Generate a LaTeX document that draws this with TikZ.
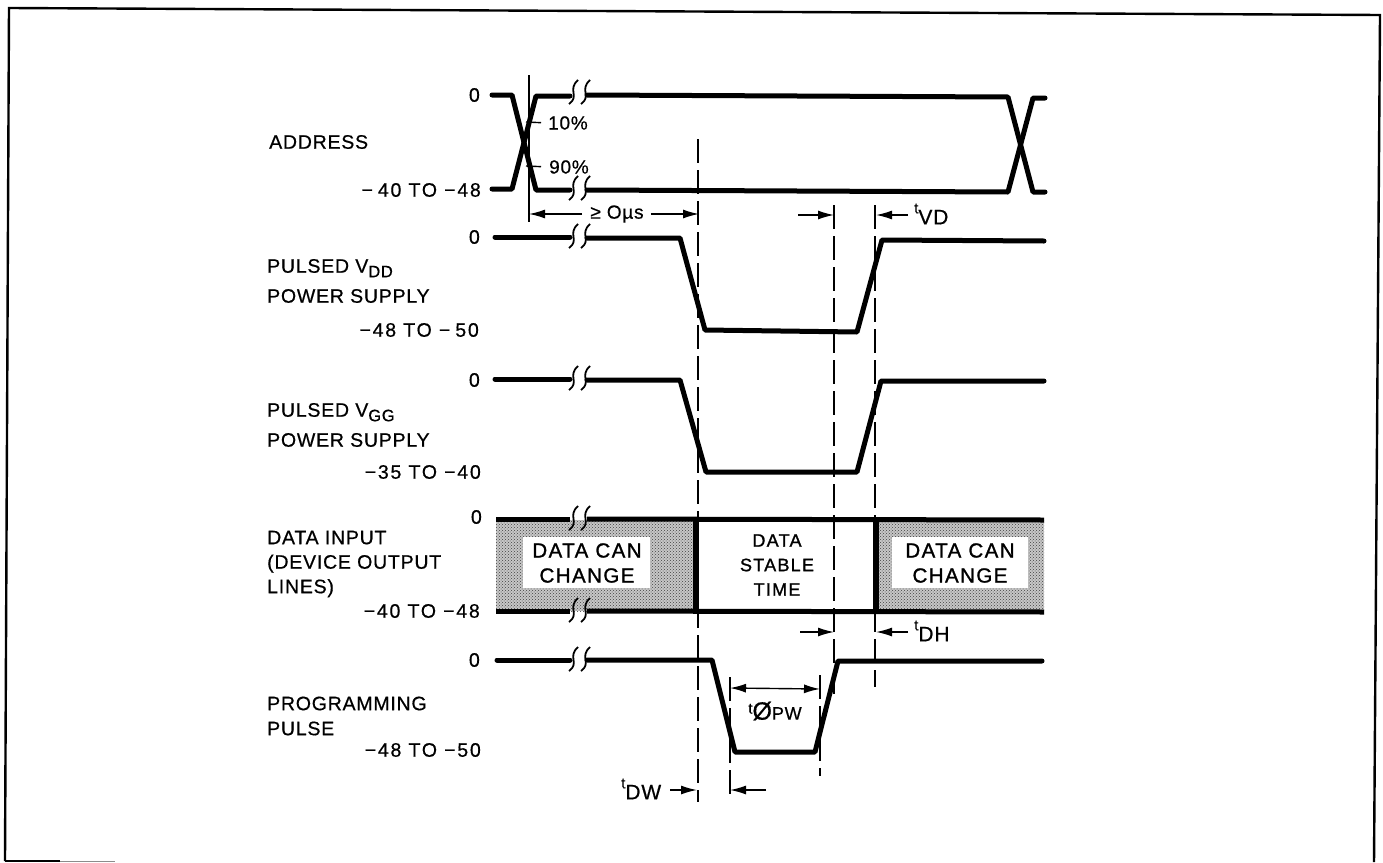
\documentclass[tikz,border=0pt]{standalone}
\usepackage{fontspec}
\setmainfont{Liberation Sans}[FakeBold=0.6,LetterSpace=4]
\newfontfamily\boxfont{Liberation Sans}[FakeBold=1.2,LetterSpace=7]
\newfontfamily\levelfont{Liberation Sans}[FakeBold=0.6,LetterSpace=9]
\usetikzlibrary{arrows.meta,patterns}
\newcommand{\brkmark}[2]{%
  \draw[breakline] (#1-5,#2+11) .. controls (#1+6,#2+3) and (#1-7,#2-3) .. (#1+4,#2-13);
  \draw[breakline] (#1+7,#2+11) .. controls (#1+18,#2+3) and (#1+5,#2-3) .. (#1+16,#2-13);}
\newcommand{\subs}[1]{\raisebox{-4.5pt}{\fontsize{16.5}{17}\selectfont #1}}
\newcommand{\tsub}[1]{\raisebox{-5pt}{\fontsize{21}{21}\selectfont #1}}
\newcommand{\sups}[1]{\raisebox{6pt}{\fontsize{15}{15}\selectfont #1}}
\tikzset{
  x=1pt,y=-1pt,
  signal/.style={line width=5pt,line join=round,line cap=round},
  breakline/.style={line width=1.8pt},
  frameline/.style={line width=2.4pt},
  guide/.style={line width=1.3pt,dash pattern=on 24pt off 7pt},
  tick/.style={line width=1.4pt},
  dimline/.style={line width=1.4pt,-{Latex[length=16pt,width=9pt]}},
  levellabel/.style={anchor=east,inner sep=0pt,font=\levelfont\fontsize{19.5}{22}\selectfont},
  namelabel/.style={anchor=west,inner sep=0pt,align=left,font=\fontsize{19.5}{#1}\selectfont},
  namelabel/.default=25pt,
  boxlabel/.style={inner sep=0pt,align=center,font=\boxfont\fontsize{20.5}{25}\selectfont},
  timelabel/.style={inner sep=0pt,font=\fontsize{19}{22}\selectfont},
}
\begin{document}
\begin{tikzpicture}
\useasboundingbox (0,0) rectangle (1383,862);
% frame
\draw[frameline,line join=miter] (5,861) -- (9,8) -- (1380,15) -- (1374,862);
\draw[line width=1.6pt] (5,861) -- (60,861);
\draw[line width=1pt,black!45] (60,861) -- (115,861);
% shaded regions
\fill[black!22] (496,520) rectangle (696,611);
\fill[black!22] (876,520) rectangle (1044,611);
\fill[pattern=crosshatch dots,pattern color=black!75] (496,520) rectangle (696,611);
\fill[pattern=crosshatch dots,pattern color=black!75] (876,520) rectangle (1044,611);
\fill[white] (523,537) rectangle (650,588);
\fill[white] (892,537) rectangle (1028,588);
% guide lines
\draw[line width=1.3pt] (529,75) -- (529,155);
\draw[line width=1.3pt] (529,168) -- (529,222);
\draw[guide] (698,139) -- (698,802);
\draw[guide] (834,205) -- (834,696);
\draw[guide] (875,205) -- (875,687);
\draw[guide] (730,677) -- (730,800);
\draw[guide] (820,675) -- (820,776);
% address
\draw[signal] (492,95) -- (512,95) -- (536,190) -- (570,190);
\draw[signal] (492,189) -- (512,189) -- (536,96) -- (570,96);
\draw[signal] (587,95) -- (1008,97) -- (1033,192) -- (1045,192);
\draw[signal] (587,190) -- (1008,192) -- (1033,98) -- (1045,98);
\brkmark{574}{93}
\brkmark{574}{189}
% vdd
\draw[signal] (495,237) -- (570,237);
\draw[signal] (587,238) -- (680,238) -- (705,330) -- (857,332) -- (882,240) -- (1044,241);
\brkmark{574}{237}
% vgg
\draw[signal] (495,379) -- (570,379);
\draw[signal] (587,380) -- (680,380) -- (706,472) -- (857,472) -- (881,381) -- (1044,381);
\brkmark{574}{379}
% data
\draw[signal,line cap=butt] (496,519) -- (570,519);
\draw[signal,line cap=butt] (587,519) -- (1044,520);
\draw[signal,line cap=butt] (496,611) -- (570,611);
\draw[signal,line cap=butt] (587,611) -- (1044,612);
\draw[line width=5.5pt] (696,517) -- (696,614);
\draw[line width=5.5pt] (876,517) -- (876,614);
\brkmark{574}{519}
\brkmark{574}{611}
% programming pulse
\draw[signal] (497,660) -- (570,660);
\draw[signal] (587,660) -- (712,660) -- (735,752) -- (815,752) -- (838,661) -- (1042,661);
\brkmark{574}{660}
% percent ticks
\node[timelabel,anchor=west] (pten) at (548,123) {10\%};
\node[timelabel,anchor=west] (pninety) at (549,167) {90\%};
\coordinate (tenin) at (526,122);
\coordinate (ninetyin) at (526,166);
\draw[tick,shorten >=7pt] (tenin) -- (pten.west);
\draw[tick,shorten >=8pt] (ninetyin) -- (pninety.west);
% dimension arrows
\node[timelabel] (oms) at (617,214) {≥ Oµs};
\coordinate (omsl) at (529,214); \coordinate (omsr) at (699,214);
\draw[dimline] (oms.west) ++(-8,0) -- (omsl);
\draw[dimline] (oms.east) ++(7,0) -- (omsr);
\node[timelabel,anchor=west] (tvd) at (914,214) {\sups{t}\tsub{VD}};
\coordinate (vdl) at (834,215); \coordinate (vdls) at (798,215);
\coordinate (vdr) at (876,215); \coordinate (vdrs) at (908,215);
\draw[dimline] (vdls) -- (vdl);
\draw[dimline] (vdrs) -- (vdr);
\node[timelabel,anchor=west] (tdh) at (914,631) {\sups{t}\tsub{DH}};
\coordinate (dhl) at (834,632); \coordinate (dhls) at (800,632);
\coordinate (dhr) at (876,632); \coordinate (dhrs) at (908,632);
\draw[dimline] (dhls) -- (dhl);
\draw[dimline] (dhrs) -- (dhr);
\node[timelabel,anchor=west] (tdw) at (621,789) {\sups{t}\tsub{DW}};
\coordinate (dwl) at (697,790); \coordinate (dwls) at (670,790);
\coordinate (dwr) at (730,790); \coordinate (dwrs) at (766,790);
\draw[dimline] (dwls) -- (dwl);
\draw[dimline] (dwrs) -- (dwr);
\node[timelabel] (tpw) at (775,711) {\sups{t}{\fontsize{25}{25}\selectfont Ø}{\fontsize{18}{18}\selectfont PW}};
\coordinate (pwl) at (730,688); \coordinate (pwr) at (820,689);
\draw[line width=1.4pt,{Latex[length=16pt,width=9pt]}-{Latex[length=16pt,width=9pt]}] (pwl) -- (pwr);
% level labels
\node[levellabel] (l1) at (480,95) {0};
\node[levellabel] (l2) at (481,190) {−\kern5pt 40 TO −48};
\node[levellabel] (l3) at (480,237) {0};
\node[levellabel] (l4) at (479,330) {−48 TO −\kern5pt 50};
\node[levellabel] (l5) at (480,380) {0};
\node[levellabel] (l6) at (481,472) {−35 TO −40};
\node[levellabel] (l7) at (482,517) {0};
\node[levellabel] (l8) at (480,611) {−40 TO −48};
\node[levellabel] (l9) at (480,660) {0};
\node[levellabel] (l10) at (481,750) {−48 TO −50};
% names
\node[namelabel] (addr) at (269,142) {ADDRESS};
\node[namelabel=30pt] (vdd) at (267,281) {PULSED V\subs{DD}\\POWER SUPPLY};
\node[namelabel=30pt] (vgg) at (267,425) {PULSED V\subs{GG}\\POWER SUPPLY};
\node[namelabel=24.5pt] (din) at (267,564) {DATA INPUT\\(DEVICE OUTPUT\\LINES)};
\node[namelabel=25pt] (prog) at (267,716) {PROGRAMMING\\PULSE};
% box labels
\node[boxlabel] (dc1) at (587,563) {DATA CAN\\CHANGE};
\node[boxlabel] (dc2) at (960,563) {DATA CAN\\CHANGE};
\node[boxlabel,font=\boxfont\fontsize{18}{24.5}\selectfont] (dst) at (777,565) {DATA\\STABLE\\TIME};
\end{tikzpicture}
\end{document}
